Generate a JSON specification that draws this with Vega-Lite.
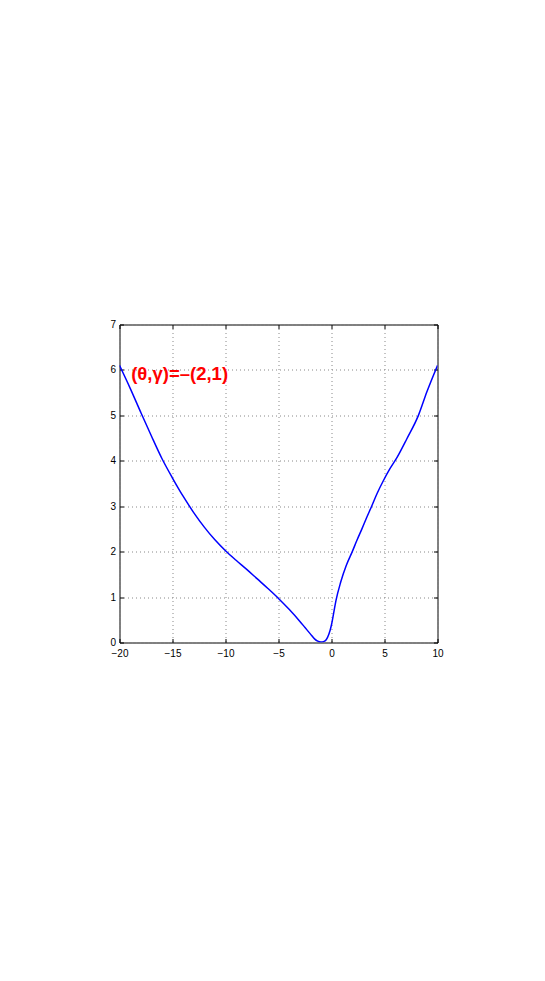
{
  "$schema": "https://vega.github.io/schema/vega-lite/v6.json",
  "autosize": {"type": "none"},
  "padding": {"left": 119.5, "top": 324.5, "right": 107.5, "bottom": 338.5},
  "width": 318,
  "height": 318,
  "background": "white",
  "config": {
    "view": {"stroke": "black", "strokeWidth": 1},
    "axis": {
      "grid": true,
      "gridColor": "#888888",
      "gridDash": [1, 3],
      "gridWidth": 1,
      "domain": false,
      "tickColor": "black",
      "tickSize": -4,
      "labelFont": "Liberation Sans",
      "labelFontSize": 10,
      "labelColor": "black",
      "labelFlush": false,
      "labelPadding": 8,
      "title": null
    },
    "axisBottom": {"labelPadding": 10}
  },
  "datasets": {
    "curve": [
      {"x": -20, "y": 6.1}, {"x": -19, "y": 5.6}, {"x": -18, "y": 5.07}, {"x": -17, "y": 4.55},
      {"x": -16, "y": 4.05}, {"x": -15, "y": 3.62}, {"x": -14, "y": 3.22}, {"x": -13, "y": 2.86},
      {"x": -12, "y": 2.54}, {"x": -11, "y": 2.26}, {"x": -10, "y": 2.02}, {"x": -9, "y": 1.81},
      {"x": -8, "y": 1.61}, {"x": -7, "y": 1.4}, {"x": -6, "y": 1.19}, {"x": -5, "y": 0.97},
      {"x": -4, "y": 0.73}, {"x": -3, "y": 0.47}, {"x": -2.5, "y": 0.33}, {"x": -2, "y": 0.19},
      {"x": -1.6, "y": 0.08}, {"x": -1.3, "y": 0.03}, {"x": -1.0, "y": 0.01}, {"x": -0.75, "y": 0.02},
      {"x": -0.5, "y": 0.06}, {"x": -0.25, "y": 0.18}, {"x": 0, "y": 0.39}, {"x": 0.2, "y": 0.64},
      {"x": 0.42, "y": 0.92}, {"x": 0.87, "y": 1.33}, {"x": 1.4, "y": 1.7}, {"x": 1.96, "y": 2.0},
      {"x": 2.4, "y": 2.25}, {"x": 2.85, "y": 2.49}, {"x": 3.3, "y": 2.74}, {"x": 3.79, "y": 3.0},
      {"x": 4.3, "y": 3.28}, {"x": 4.89, "y": 3.56}, {"x": 5.5, "y": 3.82}, {"x": 6.2, "y": 4.08},
      {"x": 7.1, "y": 4.48}, {"x": 8.2, "y": 5.0}, {"x": 9.0, "y": 5.52}, {"x": 10, "y": 6.1}
    ],
    "label": [{"x": -18.9, "y": 5.78, "text": "(θ,γ)=–(2,1)"}]
  },
  "layer": [
    {
      "data": {"name": "curve"},
      "mark": {"type": "line", "color": "#0000ff", "strokeWidth": 1.5, "interpolate": "monotone", "clip": true},
      "encoding": {
        "x": {"field": "x", "type": "quantitative", "scale": {"domain": [-20, 10], "nice": false, "zero": false},
              "axis": {"orient": "bottom", "values": [-20, -15, -10, -5, 0, 5, 10]}},
        "y": {"field": "y", "type": "quantitative", "scale": {"domain": [0, 7], "nice": false},
              "axis": {"orient": "left", "values": [0, 1, 2, 3, 4, 5, 6, 7]}}
      }
    },
    {
      "data": {"name": "label"},
      "mark": {"type": "text", "color": "#ff0000", "font": "Liberation Sans", "fontWeight": "bold", "fontSize": 18.5, "align": "left", "baseline": "alphabetic"},
      "encoding": {
        "x": {"field": "x", "type": "quantitative", "axis": {"orient": "top", "values": [-20, -15, -10, -5, 0, 5, 10], "labels": false, "grid": false}},
        "y": {"field": "y", "type": "quantitative", "axis": {"orient": "right", "values": [0, 1, 2, 3, 4, 5, 6, 7], "labels": false, "grid": false}},
        "text": {"field": "text"}
      }
    }
  ]
}
